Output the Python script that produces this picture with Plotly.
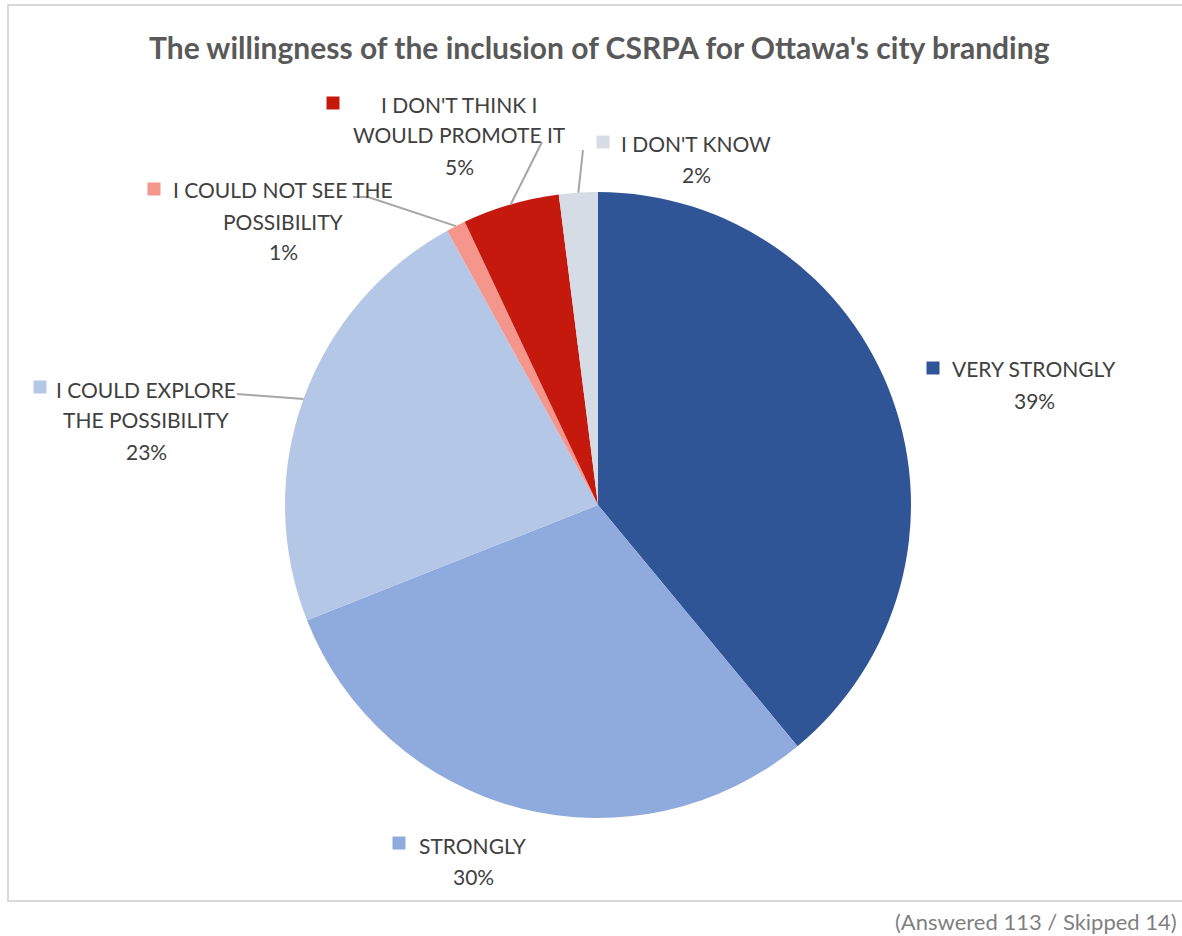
import math
import plotly.graph_objects as go

# Survey answers (share of respondents, %)
categories = [
    "VERY STRONGLY",
    "STRONGLY",
    "I COULD EXPLORE THE POSSIBILITY",
    "I COULD NOT SEE THE POSSIBILITY",
    "I DON'T THINK I WOULD PROMOTE IT",
    "I DON'T KNOW",
]
values = [39, 30, 23, 1, 5, 2]
colors = ["#2F5597", "#8FAADC", "#B4C7E7", "#F4968C", "#C4190C", "#D6DCE5"]

# Wrapped category text used in the outside labels
label_lines = [
    ["VERY STRONGLY"],
    ["STRONGLY"],
    ["I COULD EXPLORE", "THE POSSIBILITY"],
    ["I COULD NOT SEE THE", "POSSIBILITY"],
    ["I DON'T THINK I", "WOULD PROMOTE IT"],
    ["I DON'T KNOW"],
]

title_text = "The willingness of the inclusion of CSRPA for Ottawa's city branding"
note_text = "(Answered 113 / Skipped 14)"

# ---- layout (pixels) ----
W, H = 1182, 936
CX, CY, R = 598, 505, 313
LINE_GAP = 31

# text block centre x, first-line centre y, key-square centre (x, y)
label_pos = [
    (1034, 369, (933, 368)),
    (473, 845, (399, 843)),
    (146, 389, (40, 387)),
    (283, 190, (154, 189)),
    (459, 104, (333, 103)),
    (696, 143, (603, 142)),
]
# leader line starting points (label side); None = no leader
leader_start = [
    None,
    None,
    [(237, 394)],
    [(353, 197), (368, 197)],
    [(542, 142)],
    [(583, 150)],
]

FONT = "Lato, 'Open Sans', sans-serif"
TEXT_COLOR = "#404040"


def px(x):
    return x / W


def py(y):
    return 1 - y / H


fig = go.Figure(
    go.Pie(
        labels=categories,
        values=values,
        marker=dict(colors=colors, line=dict(width=0)),
        sort=False,
        direction="clockwise",
        rotation=0,
        textinfo="none",
        hoverinfo="label+percent",
        showlegend=False,
        domain=dict(
            x=[px(CX - R), px(CX + R)],
            y=[py(CY + R), py(CY - R)],
        ),
    )
)

annotations = []
shapes = []

# chart frame
shapes.append(dict(
    type="rect", xref="paper", yref="paper",
    x0=px(8), x1=px(W + 20), y0=py(901), y1=py(5),
    line=dict(color="#D9D9D9", width=2), fillcolor="rgba(0,0,0,0)", layer="below",
))

total = sum(values)
cum = 0.0
for i, v in enumerate(values):
    mid = (cum + v / 2) / total * 2 * math.pi
    cum += v
    cx_text, y0, (kx, ky) = label_pos[i]
    lines = label_lines[i] + [f"{v}%"]
    for j, line in enumerate(lines):
        annotations.append(dict(
            x=px(cx_text), y=py(y0 + j * LINE_GAP), xref="paper", yref="paper",
            text=line, showarrow=False, xanchor="center", yanchor="middle",
            font=dict(family=FONT, size=21, color=TEXT_COLOR),
        ))
    # legend key square
    shapes.append(dict(
        type="rect", xref="paper", yref="paper",
        x0=px(kx - 6.5), x1=px(kx + 6.5), y0=py(ky + 6.5), y1=py(ky - 6.5),
        fillcolor=colors[i], line=dict(width=0),
    ))
    # leader line to the slice edge at the mid angle
    if leader_start[i]:
        ex = CX + R * math.sin(mid)
        ey = CY - R * math.cos(mid)
        pts = leader_start[i] + [(ex, ey)]
        path = "M " + " L ".join(f"{px(x):.5f},{py(y):.5f}" for x, y in pts)
        shapes.append(dict(
            type="path", xref="paper", yref="paper", path=path,
            line=dict(color="#A6A6A6", width=2),
        ))

annotations.append(dict(
    x=px(599), y=py(47), xref="paper", yref="paper", text=f"<b>{title_text}</b>",
    showarrow=False, xanchor="center", yanchor="middle",
    font=dict(family=FONT, size=30, color="#595959"),
))
annotations.append(dict(
    x=px(1179), y=py(921), xref="paper", yref="paper", text=note_text,
    showarrow=False, xanchor="right", yanchor="middle",
    font=dict(family=FONT, size=22, color="#7F7F7F"),
))

fig.update_layout(
    width=W, height=H,
    margin=dict(l=0, r=0, t=0, b=0),
    paper_bgcolor="white", plot_bgcolor="white",
    annotations=annotations, shapes=shapes,
)

fig.write_html("out.html")
